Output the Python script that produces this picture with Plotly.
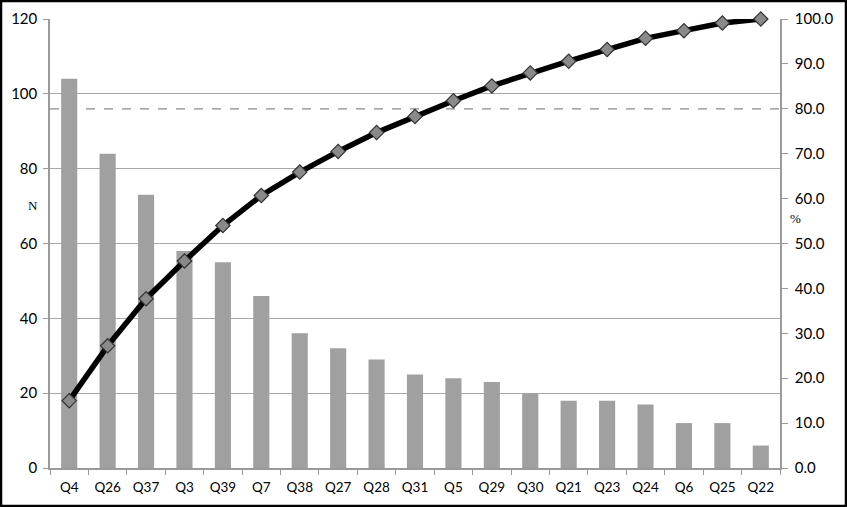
import plotly.graph_objects as go

categories = ["Q4", "Q26", "Q37", "Q3", "Q39", "Q7", "Q38", "Q27", "Q28", "Q31",
              "Q5", "Q29", "Q30", "Q21", "Q23", "Q24", "Q6", "Q25", "Q22"]
counts = [104, 84, 73, 58, 55, 46, 36, 32, 29, 25, 24, 23, 20, 18, 18, 17, 12, 12, 6]
cumulative_pct = [15.0, 27.2, 37.7, 46.1, 54.0, 60.7, 65.9, 70.5, 74.7, 78.3,
                  81.8, 85.1, 88.0, 90.6, 93.2, 95.7, 97.4, 99.1, 100.0]
threshold_pct = 80.0
left_ticks = [0, 20, 40, 60, 80, 100, 120]
right_ticks = [0, 10, 20, 30, 40, 50, 60, 70, 80, 90, 100]

W, H = 847, 507
L, R, T, B = 50, 67, 19, 39

fig = go.Figure()
fig.add_trace(go.Bar(x=categories, y=counts, marker=dict(color="#a0a0a0", line=dict(width=0)),
                     yaxis="y", showlegend=False))
fig.add_trace(go.Scatter(x=categories, y=cumulative_pct, yaxis="y2", mode="lines+markers",
                         line=dict(color="black", width=5.5),
                         marker=dict(symbol="diamond", size=11, color="#8a8a8a",
                                     line=dict(color="#333333", width=1.2)),
                         cliponaxis=False, showlegend=False))

tf = dict(family="Lato, 'Open Sans', sans-serif", size=15, color="black")

fig.update_layout(
    width=W, height=H,
    margin=dict(l=L, r=R, t=T, b=B, autoexpand=False),
    plot_bgcolor="white", paper_bgcolor="white",
    bargap=0.58,
    font=tf,
    xaxis=dict(range=[-0.5, len(categories) - 0.5], showline=True, linecolor="#9a9a9a",
               linewidth=1.5, ticks="outside",
               tickson="boundaries", ticklen=5, tickcolor="#9a9a9a", tickangle=0,
               automargin=False, ticklabelstandoff=6,
               tickfont=dict(family="Lato, sans-serif", size=13.5, color="black"),
               showgrid=False),
    yaxis=dict(range=[0, 120], tickvals=left_ticks, showgrid=True, gridcolor="#a8a8a8",
               gridwidth=1.3, showline=True, linecolor="#9a9a9a", linewidth=1.5,
               ticks="outside", ticklen=5, tickcolor="#9a9a9a", zeroline=False,
               automargin=False, ticklabelstandoff=3, tickfont=tf),
    yaxis2=dict(range=[0, 100], tickvals=right_ticks,
                ticktext=[f"{v:.1f}" for v in right_ticks], overlaying="y", side="right",
                showgrid=False, showline=True, linecolor="#9a9a9a", linewidth=1.5,
                ticks="outside", ticklen=6, tickcolor="#9a9a9a", zeroline=False,
                automargin=False, ticklabelstandoff=4, tickfont=tf),
)

fig.add_shape(type="line", xref="paper", x0=0, x1=1, yref="y2", y0=threshold_pct, y1=threshold_pct,
              line=dict(color="#8a8a8a", width=1.3, dash="dash"), layer="below")

pw = W - L - R
ph = H - T - B
fig.add_shape(type="rect", xref="paper", yref="paper",
              x0=-(L - 1) / pw, x1=1 + (R - 1) / pw, y0=-(B - 1) / ph, y1=1 + (T - 1) / ph,
              line=dict(color="black", width=2.5), fillcolor="rgba(0,0,0,0)")

fig.add_annotation(text="N", xref="paper", yref="paper", x=-(L - 26) / pw, y=(H - B - 205) / ph,
                   showarrow=False, font=dict(family="Liberation Serif, serif", size=13, color="black"))
fig.add_annotation(text="%", xref="paper", yref="paper", x=1 + (803 - (W - R)) / pw, y=(H - B - 218) / ph,
                   showarrow=False, font=dict(family="Liberation Serif, serif", size=13, color="black"))

fig.write_html("out.html", config={"displayModeBar": False},
               post_script="document.body.style.margin='0px';document.body.style.padding='0px';")
